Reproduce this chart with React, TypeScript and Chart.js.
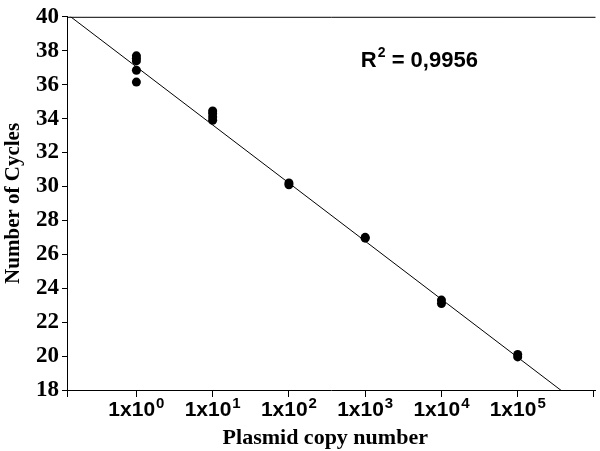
import React, { useEffect, useRef } from "react";
import { Chart, registerables } from "chart.js";

Chart.register(...registerables);

// Data (log10 of plasmid copy number vs Ct)
const logCopies = [0, 0, 0, 0, 0, 1, 1, 1, 1, 2, 2, 3, 3, 4, 4, 5, 5];
const cycles = [37.7, 37.55, 37.4, 36.85, 36.15, 34.45, 34.3, 34.1, 33.9, 30.2, 30.1, 27.0, 26.95, 23.3, 23.1, 20.1, 19.95];
const fitSlope = -3.425;
const fitIntercept = 37.05;
const rSquaredText = "0,9956";
const xTickValues = [0, 1, 2, 3, 4, 5];
const xTickBase = "1x10";
const xTitle = "Plasmid copy number";
const yTitle = "Number of Cycles";
const xMin = -0.91;
const xMax = 6.02;
const yMin = 18;
const yMax = 40;

const SANS = "'Liberation Sans', Arial, sans-serif";
const SERIF = "'Liberation Serif', 'Times New Roman', serif";

const extrasPlugin = {
  id: "extras",
  afterDraw(chart: any) {
    const { ctx, chartArea, scales } = chart;
    ctx.save();
    // top frame line
    ctx.strokeStyle = "#000";
    ctx.lineWidth = 1;
    ctx.beginPath();
    ctx.moveTo(chartArea.left, chartArea.top + 0.5);
    ctx.lineTo(chartArea.right, chartArea.top + 0.5);
    ctx.stroke();

    ctx.fillStyle = "#000";
    ctx.textBaseline = "alphabetic";
    ctx.textAlign = "left";

    // x tick labels with superscript exponent
    const labelBase = chartArea.bottom + 26;
    xTickValues.forEach((v) => {
      const px = scales.x.getPixelForValue(v);
      ctx.font = `bold 21px ${SANS}`;
      const bw = ctx.measureText(xTickBase).width;
      ctx.font = `bold 15px ${SANS}`;
      const ew = ctx.measureText(String(v)).width;
      const start = px - (bw + ew + 1) / 2;
      ctx.font = `bold 21px ${SANS}`;
      ctx.fillText(xTickBase, start, labelBase);
      ctx.font = `bold 15px ${SANS}`;
      ctx.fillText(String(v), start + bw + 1, labelBase - 8);
    });

    // x axis title
    ctx.textAlign = "center";
    ctx.font = `bold 22px ${SERIF}`;
    ctx.fillText(xTitle, (chartArea.left + chartArea.right) / 2 - 6, chartArea.bottom + 54);

    // y axis title (rotated)
    ctx.save();
    ctx.font = `bold 21px ${SERIF}`;
    ctx.translate(19, (chartArea.top + chartArea.bottom) / 2);
    ctx.rotate(-Math.PI / 2);
    ctx.fillText(yTitle, 0, 0);
    ctx.restore();

    // R² label
    ctx.textAlign = "left";
    const x0 = chartArea.left + (chartArea.right - chartArea.left) * 0.556;
    const base = chartArea.top + 50;
    ctx.font = `bold 22px ${SANS}`;
    ctx.fillText("R", x0, base);
    const rw = ctx.measureText("R").width;
    ctx.font = `bold 14px ${SANS}`;
    ctx.fillText("2", x0 + rw + 1, base - 10);
    const sw = ctx.measureText("2").width;
    ctx.font = `bold 22px ${SANS}`;
    ctx.fillText(" = " + rSquaredText, x0 + rw + sw + 1, base);
    ctx.restore();
  },
};

export default function App() {
  const ref = useRef<HTMLCanvasElement | null>(null);
  useEffect(() => {
    document.body.style.margin = "0";
    const points = logCopies.map((x, i) => ({ x, y: cycles[i] }));
    const lineX = [xMin, xMax];
    const linePts = lineX.map((x) => ({ x, y: fitIntercept + fitSlope * x }));
    const chart = new Chart(ref.current as HTMLCanvasElement, {
      type: "scatter",
      data: {
        datasets: [
          {
            type: "line",
            data: linePts,
            borderColor: "#000",
            borderWidth: 1,
            pointRadius: 0,
            fill: false,
            order: 2,
          } as any,
          {
            type: "scatter",
            data: points,
            backgroundColor: "#000",
            borderColor: "#000",
            pointRadius: 4.5,
            borderWidth: 0,
            order: 1,
          },
        ],
      },
      options: {
        animation: false,
        responsive: false,
        layout: { padding: { top: 10, right: 2, left: 0, bottom: 0 } },
        plugins: { legend: { display: false }, tooltip: { enabled: false } },
        scales: {
          x: {
            type: "linear",
            min: xMin,
            max: xMax,
            afterBuildTicks(scale: any) {
              scale.ticks = [xMin, ...xTickValues, 6].map((v) => ({ value: v }));
            },
            afterFit(scale: any) {
              scale.height = 61;
            },
            ticks: {
              color: "#000",
              callback: () => "",
            },
            grid: { drawOnChartArea: false, drawTicks: true, tickLength: 7, color: "#000" },
            border: { display: true, color: "#000", width: 1 },
          },
          y: {
            min: yMin,
            max: yMax,
            afterFit(scale: any) {
              scale.width = 67;
            },
            ticks: {
              stepSize: 2,
              color: "#000",
              padding: 3,
              font: { family: SERIF, size: 23, weight: "bold" },
            },
            grid: { drawOnChartArea: false, drawTicks: true, tickLength: 5, color: "#000" },
            border: { display: true, color: "#000", width: 1 },
          },
        },
      },
      plugins: [extrasPlugin],
    });
    return () => chart.destroy();
  }, []);
  return (
    <div style={{ width: 600, height: 451 }}>
      <canvas ref={ref} width={600} height={451} style={{ display: "block" }} />
    </div>
  );
}
